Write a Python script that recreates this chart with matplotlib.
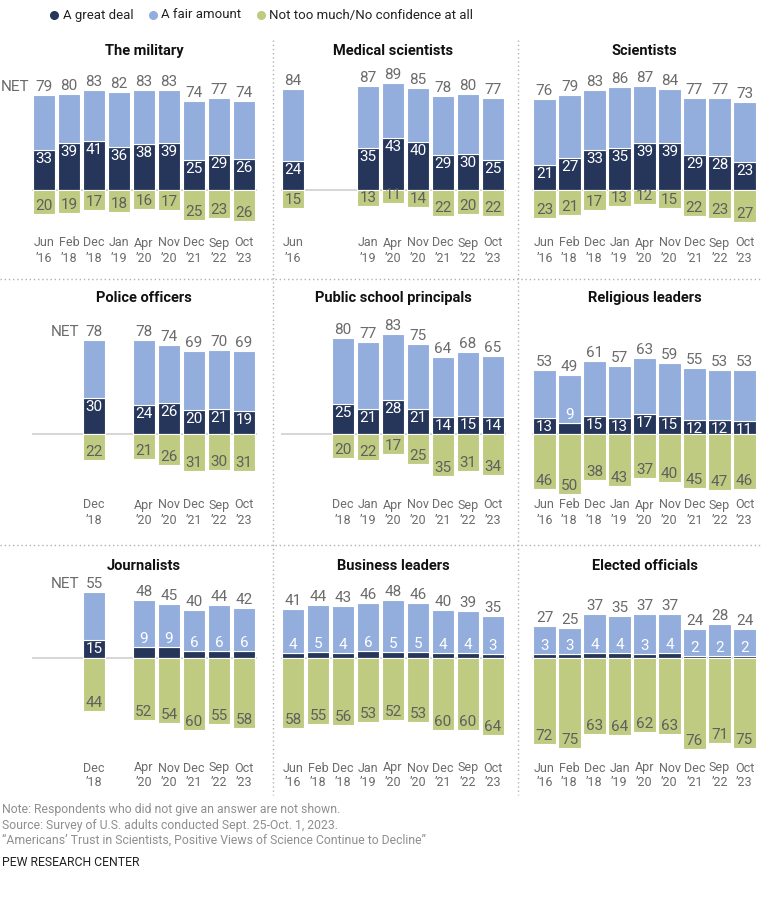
import matplotlib
matplotlib.use("Agg")
import matplotlib.pyplot as plt
from matplotlib.lines import Line2D

plt.rcParams['font.family'] = ['Roboto', 'DejaVu Sans']

# ---------------- data ----------------
waves = ["Jun\n’16", "Feb\n’18", "Dec\n’18", "Jan\n’19", "Apr\n’20",
         "Nov\n’20", "Dec\n’21", "Sep\n’22", "Oct\n’23"]

titles = ["The military", "Medical scientists", "Scientists",
          "Police officers", "Public school principals", "Religious leaders",
          "Journalists", "Business leaders", "Elected officials"]

N = None
military_net   = [79, 80, 83, 82, 83, 83, 74, 77, 74]
military_great = [33, 39, 41, 36, 38, 39, 25, 29, 26]
military_not   = [20, 19, 17, 18, 16, 17, 25, 23, 26]

medsci_net   = [84, N, N, 87, 89, 85, 78, 80, 77]
medsci_great = [24, N, N, 35, 43, 40, 29, 30, 25]
medsci_not   = [15, N, N, 13, 11, 14, 22, 20, 22]

sci_net   = [76, 79, 83, 86, 87, 84, 77, 77, 73]
sci_great = [21, 27, 33, 35, 39, 39, 29, 28, 23]
sci_not   = [23, 21, 17, 13, 12, 15, 22, 23, 27]

police_net   = [N, N, 78, N, 78, 74, 69, 70, 69]
police_great = [N, N, 30, N, 24, 26, 20, 21, 19]
police_not   = [N, N, 22, N, 21, 26, 31, 30, 31]

school_net   = [N, N, 80, 77, 83, 75, 64, 68, 65]
school_great = [N, N, 25, 21, 28, 21, 14, 15, 14]
school_not   = [N, N, 20, 22, 17, 25, 35, 31, 34]

relig_net   = [53, 49, 61, 57, 63, 59, 55, 53, 53]
relig_great = [13, 9, 15, 13, 17, 15, 12, 12, 11]
relig_not   = [46, 50, 38, 43, 37, 40, 45, 47, 46]

journ_net   = [N, N, 55, N, 48, 45, 40, 44, 42]
journ_great = [N, N, 15, N, 9, 9, 6, 6, 6]
journ_not   = [N, N, 44, N, 52, 54, 60, 55, 58]

biz_net   = [41, 44, 43, 46, 48, 46, 40, 39, 35]
biz_great = [4, 5, 4, 6, 5, 5, 4, 4, 3]
biz_not   = [58, 55, 56, 53, 52, 53, 60, 60, 64]

elect_net   = [27, 25, 37, 35, 37, 37, 24, 28, 24]
elect_great = [3, 3, 4, 4, 3, 4, 2, 2, 2]
elect_not   = [72, 75, 63, 64, 62, 63, 76, 71, 75]

panels = [
    (military_net, military_great, military_not),
    (medsci_net, medsci_great, medsci_not),
    (sci_net, sci_great, sci_not),
    (police_net, police_great, police_not),
    (school_net, school_great, school_not),
    (relig_net, relig_great, relig_not),
    (journ_net, journ_great, journ_not),
    (biz_net, biz_great, biz_not),
    (elect_net, elect_great, elect_not),
]

legend_labels = ["A great deal", "A fair amount", "Not too much/No confidence at all"]

# ---------------- style ----------------
NAVY = "#26365B"
LIGHT = "#93AEDD"
GREEN = "#BFCB80"
GRAY_TXT = "#6b6b6b"
GREEN_TXT = "#5f5f5f"

W, H = 761, 900
fig = plt.figure(figsize=(W / 100, H / 100), dpi=100)

PXU = 1.2  # pixels per percentage point
col_slot0 = [44, 293, 544.5]
row_base = [190, 434, 658]
row_title = [51, 298, 566]
row_tick = [(243, 258), (505, 521), (768, 783)]
SLOT = 25

def fx(x):
    return x / W

def fy(y):
    return 1 - y / H

for i, (net, great, notc) in enumerate(panels):
    r, c = divmod(i, 3)
    left_px = col_slot0[c] - SLOT / 2
    width_px = SLOT * 9
    base = row_base[r]
    ytop = 100
    ybot = -80
    top_px = base - ytop * PXU
    h_px = (ytop - ybot) * PXU
    ax = fig.add_axes([fx(left_px), fy(top_px + h_px), width_px / W, h_px / H])
    ax.set_xlim(-0.5, 8.5)
    ax.set_ylim(ybot, ytop)
    ax.axis('off')
    ax.patch.set_alpha(0)

    ax.axhline(0, color="#cfcfcf", lw=1.2, zorder=1)

    xs = [k for k in range(9) if net[k] is not None]
    g = [great[k] for k in xs]
    f = [net[k] - great[k] for k in xs]
    n = [notc[k] for k in xs]
    bw = 0.9
    ax.bar(xs, g, width=bw, color=NAVY, edgecolor='white', lw=0.8, zorder=2)
    ax.bar(xs, f, bottom=g, width=bw, color=LIGHT, edgecolor='white', lw=0.8, zorder=2)
    ax.bar(xs, [-v for v in n], width=bw, color=GREEN, edgecolor='white', lw=0.8, zorder=2)

    for k in xs:
        ax.annotate(str(net[k]), (k, net[k]), xytext=(0, 8), textcoords='offset pixels',
                    ha='center', va='center', fontsize=11, color=GRAY_TXT)
        if great[k] >= 10:
            ax.annotate(str(great[k]), (k, great[k]), xytext=(0, -9), textcoords='offset pixels',
                        ha='center', va='center', fontsize=11, color='white')
        else:
            ax.annotate(str(great[k]), (k, great[k]), xytext=(0, 8), textcoords='offset pixels',
                        ha='center', va='center', fontsize=11, color='white')
        ax.annotate(str(notc[k]), (k, -notc[k]), xytext=(0, 8), textcoords='offset pixels',
                    ha='center', va='center', fontsize=11, color=GREEN_TXT)
        t1, t2 = row_tick[r]
        l1, l2 = waves[k].split("\n")
        ax.text(k, -(t1 - base) / PXU, l1, ha='center', va='center', fontsize=9, color=GRAY_TXT)
        ax.text(k, -(t2 - base) / PXU, l2, ha='center', va='center', fontsize=9, color=GRAY_TXT)

    if c == 0:
        k0 = xs[0]
        ax.annotate("NET", (k0 - bw / 2, net[k0]), xytext=(-3, 8), textcoords='offset pixels',
                    ha='right', va='center', fontsize=11, color=GRAY_TXT)

    fig.text(fx(left_px + width_px / 2), fy(row_title[r]), titles[i], ha='center', va='center',
             fontsize=10.5, fontweight='bold', color='#111111')

# separators
for xv in [272.5, 518]:
    fig.add_artist(Line2D([fx(xv), fx(xv)], [fy(40), fy(795)], color="#b0b0b0", lw=1,
                          linestyle=(0, (1, 2)), transform=fig.transFigure))
for yv in [279, 545]:
    fig.add_artist(Line2D([fx(0), fx(761)], [fy(yv), fy(yv)], color="#b0b0b0", lw=1,
                          linestyle=(0, (1, 2)), transform=fig.transFigure))

# legend: measure text widths and lay items out centred like the reference
renderer = fig.canvas.get_renderer()
leg_texts = []
widths = []
for lab in legend_labels:
    t = fig.text(0, fy(15), lab, ha='left', va='center', fontsize=9.5, color='#222222')
    widths.append(t.get_window_extent(renderer).width)
    leg_texts.append(t)
DOT_GAP = 12
ITEM_GAP = 16
total = sum(DOT_GAP + w for w in widths) + ITEM_GAP * (len(widths) - 1)
cx = 262
xcur = cx - total / 2
for t, w, colr in zip(leg_texts, widths, [NAVY, LIGHT, GREEN]):
    fig.add_artist(Line2D([fx(xcur + 3.5)], [fy(15)], marker='o', markersize=5.5, color=colr, lw=0,
                          transform=fig.transFigure))
    t.set_x(fx(xcur + DOT_GAP))
    xcur += DOT_GAP + w + ITEM_GAP

# footnotes
notes = ["Note: Respondents who did not give an answer are not shown.",
         "Source: Survey of U.S. adults conducted Sept. 25-Oct. 1, 2023.",
         "“Americans’ Trust in Scientists, Positive Views of Science Continue to Decline”"]
for yy, t in zip([810, 825, 840], notes):
    fig.text(fx(2), fy(yy), t, ha='left', va='center', fontsize=8.8, color='#8f8f8f')
fig.text(fx(2), fy(862), "PEW RESEARCH CENTER", ha='left', va='center', fontsize=8.8, color='#222222')

fig.savefig("out.png", dpi=100)
